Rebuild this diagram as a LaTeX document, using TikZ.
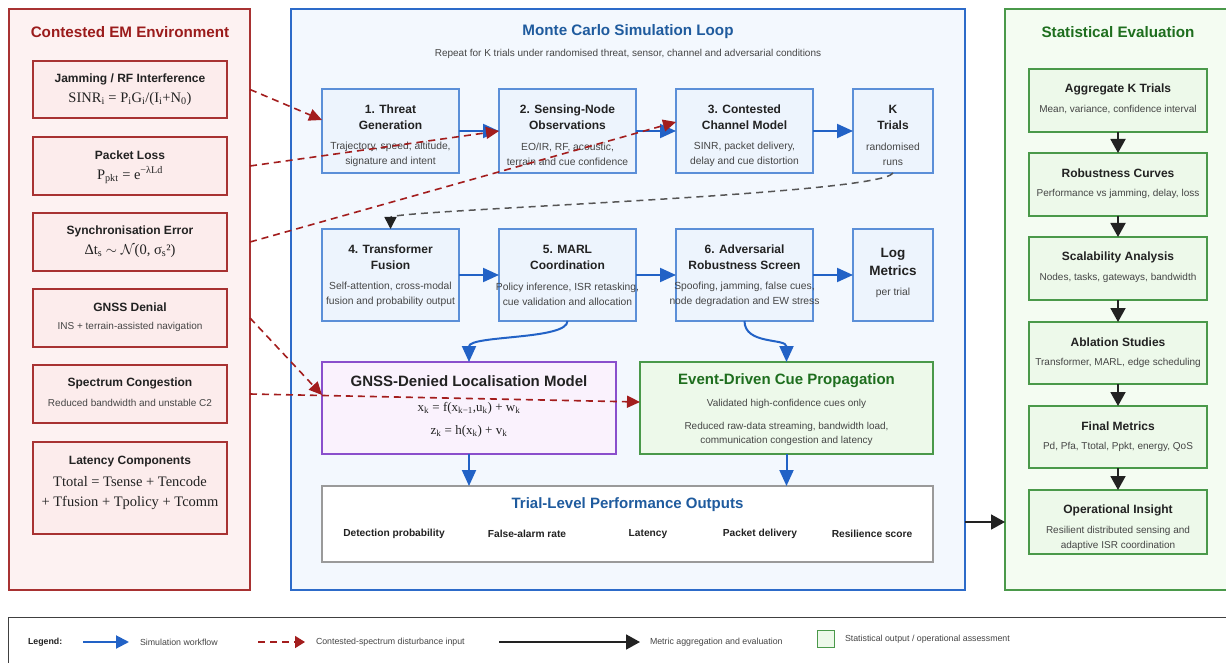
\documentclass[tikz,border=0pt]{standalone}
\usepackage{fontspec}
\setmainfont{Liberation Sans}
\newfontfamily\formulafont{Liberation Serif}
\usetikzlibrary{arrows.meta,calc}

% palette
\definecolor{envEdge}{HTML}{A83232}
\definecolor{envFill}{HTML}{FDF2F2}
\definecolor{envBoxFill}{HTML}{FCECEC}
\definecolor{envTitle}{HTML}{9B1C1C}
\definecolor{envDash}{HTML}{A31D1D}
\definecolor{simEdge}{HTML}{2D6BC9}
\definecolor{simFill}{HTML}{F3F8FE}
\definecolor{simBoxFill}{HTML}{EDF4FD}
\definecolor{simBoxEdge}{HTML}{5B8FD8}
\definecolor{flowBlue}{HTML}{2262C6}
\definecolor{titleBlue}{HTML}{1F5B9E}
\definecolor{statEdge}{HTML}{4A994A}
\definecolor{statFill}{HTML}{F4FCF2}
\definecolor{statBoxFill}{HTML}{EDF9EA}
\definecolor{titleGreen}{HTML}{1E6E1E}
\definecolor{locEdge}{HTML}{8A4FCC}
\definecolor{locFill}{HTML}{FAF2FD}
\definecolor{trialEdge}{HTML}{9A9A9A}
\definecolor{txtDark}{HTML}{222222}
\definecolor{txtGrey}{HTML}{454545}
\definecolor{loopGrey}{HTML}{555555}
\definecolor{aggBlack}{HTML}{222222}

\newcommand\formulaset{\formulafont\fontsize{14.5}{20}\selectfont\color{txtDark}}
\newcommand\noteset{\fontsize{10}{13}\selectfont\color{txtGrey}}

\tikzset{
  every node/.style={inner sep=0pt, outer sep=0pt},
  panel/.style={line width=1.3pt, anchor=north west},
  envbox/.style={draw=envEdge, fill=envBoxFill, line width=1.2pt, anchor=north, minimum width=194},
  stepbox/.style={draw=simBoxEdge, fill=simBoxFill, line width=1.2pt, anchor=north},
  statbox/.style={draw=statEdge, fill=statBoxFill, line width=1.2pt, anchor=north, minimum width=178},
  paneltitle/.style={font=\fontsize{15.2}{18}\selectfont\bfseries},
  boxhead/.style={font=\fontsize{12}{15}\selectfont\bfseries, text=txtDark},
  steptitle/.style={font=\fontsize{12}{16}\selectfont\bfseries, text=txtDark, align=center},
  stepdesc/.style={font=\fontsize{10.3}{14.5}\selectfont, text=txtGrey, align=center},
  stattitle/.style={font=\fontsize{12}{15}\selectfont\bfseries, text=txtDark},
  statdesc/.style={font=\fontsize{10}{15}\selectfont, text=txtGrey, align=center},
  bigtitle/.style={font=\fontsize{15}{18}\selectfont\bfseries},
  locformula/.style={font=\formulafont\fontsize{13}{16}\selectfont, text=txtDark},
  legendtext/.style={font=\fontsize{8.8}{11}\selectfont, text=txtGrey, anchor=west},
  flow/.style={draw=flowBlue, line width=2pt, -{Triangle[length=16pt,width=14pt]}},
  disturb/.style={draw=envDash, line width=1.6pt, dash pattern=on 7pt off 5pt,
    -{Triangle[length=13pt,width=12pt]}},
  aggr/.style={draw=aggBlack, line width=1.8pt, -{Triangle[length=14pt,width=15pt]}},
  loopback/.style={draw=loopGrey, line width=1.5pt, dash pattern=on 7pt off 5pt,
    -{Triangle[length=12pt,width=12pt,color=aggBlack]}},
}

% environment box: name, top, height, title, body
\newcommand\envitem[5]{%
  \node[envbox, minimum height=#3] (#1) at (130,#2) {};
  \node[boxhead] (#1-head) at ($(#1.north)+(0,18)$) {#4};
  \node (#1-body) at ($(#1.north)+(0,38)$) {#5};
}
% simulation step: name, centre x, top, width, height, title, description
\newcommand\simstep[7]{%
  \node[stepbox, minimum width=#4, minimum height=#5] (#1) at (#2,#3) {};
  \node[steptitle] (#1-head) at ($(#1.north)+(0,28)$) {#6};
  \node[stepdesc] (#1-desc) at ($(#1.north)+(0,65.5)$) {#7};
}
% statistical stage: name, top, height, title, description
\newcommand\statstep[5]{%
  \node[statbox, minimum height=#3] (#1) at (1118,#2) {};
  \node[stattitle] (#1-head) at ($(#1.north)+(0,20)$) {#4};
  \node[statdesc] (#1-desc) at ($(#1.north)+(0,40.5)$) {#5};
}

\begin{document}
\begin{tikzpicture}[x=1pt,y=-1pt]
\clip (0,0) rectangle (1226,663);
\fill[white] (0,0) rectangle (1226,663);

% ---------- three panels ----------
\node[panel, draw=envEdge, fill=envFill, minimum width=241, minimum height=581] (env) at (9,9) {};
\node[panel, draw=simEdge, fill=simFill, minimum width=674, minimum height=581] (sim) at (291,9) {};
\node[panel, draw=statEdge, fill=statFill, minimum width=226, minimum height=581] (stat) at (1005,9) {};

\node[paneltitle, text=envTitle] (env-title) at (130,32) {Contested EM Environment};
\node[paneltitle, text=titleBlue] (sim-title) at (628,32) {Monte Carlo Simulation Loop};
\node[font=\fontsize{10}{12}\selectfont, text=txtGrey] (sim-sub) at (628,54)
  {Repeat for K trials under randomised threat, sensor, channel and adversarial conditions};
\node[paneltitle, text=titleGreen] (stat-title) at (1118,32) {Statistical Evaluation};

% ---------- contested EM environment ----------
\envitem{jam}{61}{57}{Jamming / RF Interference}
  {\formulaset SINR\textsubscript{i} = P\textsubscript{i}G\textsubscript{i}/(I\textsubscript{i}+N\textsubscript{0})}
\envitem{pkt}{137}{58}{Packet Loss}
  {\formulaset P\textsubscript{pkt} = e\textsuperscript{−λLd}}
\envitem{sync}{213}{58}{Synchronisation Error}
  {\formulaset Δt\textsubscript{s} $\sim$ $\mathcal{N}$(0, σ\textsubscript{s}²)}
\envitem{gden}{289}{58}{GNSS Denial}
  {\noteset INS + terrain-assisted navigation}
\envitem{spec}{365}{58}{Spectrum Congestion}
  {\noteset Reduced bandwidth and unstable C2}
\node[envbox, minimum height=92] (lat) at (130,442) {};
\node[boxhead] (lat-head) at ($(lat.north)+(0,20)$) {Latency Components};
\node[align=center, font=\formulaset] (lat-body) at ($(lat.north)+(0,51)$)
  {Ttotal = Tsense + Tencode\\+ Tfusion + Tpolicy + Tcomm};

% ---------- simulation loop ----------
\simstep{threat}{390.5}{89}{137}{84}{1. Threat\\Generation}{Trajectory, speed, altitude,\\signature and intent}
\simstep{sense}{567.5}{89}{137}{84}{2. Sensing-Node\\Observations}{EO/IR, RF, acoustic,\\terrain and cue confidence}
\simstep{channel}{744.5}{89}{137}{84}{3. Contested\\Channel Model}{SINR, packet delivery,\\delay and cue distortion}
\simstep{ktrials}{893}{89}{80}{84}{K\\Trials}{randomised\\runs}
\simstep{fusion}{390.5}{229}{137}{92}{4. Transformer\\Fusion}{Self-attention, cross-modal\\fusion and probability output}
\simstep{marl}{567.5}{229}{137}{92}{5. MARL\\Coordination}{Policy inference, ISR retasking,\\cue validation and allocation}
\simstep{adv}{744.5}{229}{137}{92}{6. Adversarial\\Robustness Screen}{Spoofing, jamming, false cues,\\node degradation and EW stress}
\node[stepbox, minimum width=80, minimum height=92] (logm) at (893,229) {};
\node[steptitle, font=\fontsize{13.5}{18}\selectfont\bfseries] (logm-head) at ($(logm.north)+(0,33)$) {Log\\Metrics};
\node[stepdesc] (logm-desc) at ($(logm.north)+(0,64)$) {per trial};

% localisation model
\node[draw=locEdge, fill=locFill, line width=1.2pt, anchor=north west, minimum width=294, minimum height=92] (loc) at (322,362) {};
\node[bigtitle, text=txtDark] (loc-head) at ($(loc.north)+(0,19)$) {GNSS-Denied Localisation Model};
\node[locformula] (loc-f1) at ($(loc.north)+(0,46)$)
  {x\textsubscript{k} = f(x\textsubscript{k−1},u\textsubscript{k}) + w\textsubscript{k}};
\node[locformula] (loc-f2) at ($(loc.north)+(0,69)$)
  {z\textsubscript{k} = h(x\textsubscript{k}) + v\textsubscript{k}};

% event-driven cue propagation
\node[draw=statEdge, fill=statBoxFill, line width=1.2pt, anchor=north west, minimum width=293, minimum height=92] (cue) at (640,362) {};
\node[bigtitle, text=titleGreen] (cue-head) at ($(cue.north)+(0,19)$) {Event-Driven Cue Propagation};
\node[stepdesc, font=\fontsize{10}{14}\selectfont] (cue-d1) at ($(cue.north)+(0,42)$) {Validated high-confidence cues only};
\node[stepdesc, font=\fontsize{10}{14}\selectfont] (cue-d2) at ($(cue.north)+(0,72)$)
  {Reduced raw-data streaming, bandwidth load,\\communication congestion and latency};

% trial-level outputs
\node[draw=trialEdge, fill=white, line width=1.2pt, anchor=north west, minimum width=611, minimum height=76] (trial) at (322,486) {};
\node[bigtitle, text=titleBlue] (trial-head) at ($(trial.north)+(0,19)$) {Trial-Level Performance Outputs};
\begin{scope}[every node/.append style={font=\fontsize{10.2}{12}\selectfont\bfseries, text=txtDark}]
  \node (out-pd) at (394,534) {Detection probability};
  \node (out-fa) at (527,534) {False-alarm rate};
  \node (out-lat) at (648,534) {Latency};
  \node (out-pkt) at (760,534) {Packet delivery};
  \node (out-res) at (872,534) {Resilience score};
\end{scope}

% ---------- statistical evaluation ----------
\statstep{agg}{69}{63}{Aggregate K Trials}{Mean, variance, confidence interval}
\statstep{robust}{153}{63}{Robustness Curves}{Performance vs jamming, delay, loss}
\statstep{scale}{237}{63}{Scalability Analysis}{Nodes, tasks, gateways, bandwidth}
\statstep{ablate}{322}{62}{Ablation Studies}{Transformer, MARL, edge scheduling}
\statstep{final}{406}{62}{Final Metrics}{Pd, Pfa, Ttotal, Ppkt, energy, QoS}
\node[statbox, minimum height=64] (insight) at (1118,490) {};
\node[stattitle] (insight-head) at ($(insight.north)+(0,20)$) {Operational Insight};
\node[statdesc] (insight-desc) at ($(insight.north)+(0,48.5)$) {Resilient distributed sensing and\\adaptive ISR coordination};

% ---------- simulation workflow ----------
\draw[flow] (threat.east) -- (sense.west);
\draw[flow] (sense.east) -- (channel.west);
\draw[flow] (channel.east) -- (ktrials.west);
\draw[flow] (fusion.east) -- (marl.west);
\draw[flow] (marl.east) -- (adv.west);
\draw[flow] (adv.east) -- (logm.west);
\draw[flow] (marl.south) .. controls ($(marl.south)+(0,19)$) and ($(loc.north)+(0,-27)$) .. (loc.north);
\draw[flow] (adv.south) .. controls ($(adv.south)+(0,24)$) and ($(cue.north)+(0,-24)$) .. (cue.north);
\draw[flow] (loc.south) -- (loc.south |- trial.north);
\draw[flow] (cue.south) -- (cue.south |- trial.north);

% repeat for the next trial
\draw[loopback] (ktrials.south) .. controls ($(ktrials.south)+(-13,22)$) and ($(fusion.north)+(0,-19)$) .. (fusion.north);

% ---------- contested-spectrum disturbances ----------
\coordinate (hit-threat) at ($(threat.north west)+(0,31)$);
\coordinate (hit-channel) at ($(channel.north west)+(0,33)$);
\coordinate (hit-loc) at ($(loc.north west)+(0,33)$);
\coordinate (hit-cue) at ($(cue.north west)+(0,40)$);
\draw[disturb] (env.east |- jam.center) -- (hit-threat);
\draw[disturb] (env.east |- pkt.center) -- (sense.west);
\draw[disturb] (env.east |- sync.center) -- (hit-channel);
\draw[disturb] (env.east |- gden.center) -- (hit-loc);
\draw[disturb] (env.east |- spec.center) -- (hit-cue);

% ---------- metric aggregation ----------
\draw[aggr] (agg.south) -- (robust.north);
\draw[aggr] (robust.south) -- (scale.north);
\draw[aggr] (scale.south) -- (ablate.north);
\draw[aggr] (ablate.south) -- (final.north);
\draw[aggr] (final.south) -- (insight.north);
\draw[aggr] (sim.east |- insight.west) -- (stat.west |- insight.west);

% ---------- legend ----------
\node[draw=black!75, fill=white, line width=1pt, anchor=north west, minimum width=1230, minimum height=60] (legend) at (8,617) {};
\node[legendtext, font=\fontsize{8.8}{11}\selectfont\bfseries, text=txtDark] (leg-title) at (28,642) {Legend:};
\coordinate (lg-flow-a) at (83,642);
\coordinate (lg-flow-b) at (129,642);
\draw[flow, -{Triangle[length=13pt,width=13pt]}] (lg-flow-a) -- (lg-flow-b);
\node[legendtext] (lg-flow) at (140,642) {Simulation workflow};
\coordinate (lg-dist-a) at (258,642);
\coordinate (lg-dist-b) at (305,642);
\draw[disturb, -{Triangle[length=10pt,width=12pt]}] (lg-dist-a) -- (lg-dist-b);
\node[legendtext] (lg-dist) at (316,642) {Contested-spectrum disturbance input};
\coordinate (lg-agg-a) at (499,642);
\coordinate (lg-agg-b) at (640,642);
\draw[aggr] (lg-agg-a) -- (lg-agg-b);
\node[legendtext] (lg-agg) at (650,642) {Metric aggregation and evaluation};
\node[draw=statEdge, fill=statBoxFill, line width=1pt, minimum size=17] (lg-box) at (825.5,638.5) {};
\node[legendtext] (lg-stat) at (845,639) {Statistical output / operational assessment};
\end{tikzpicture}
\end{document}
